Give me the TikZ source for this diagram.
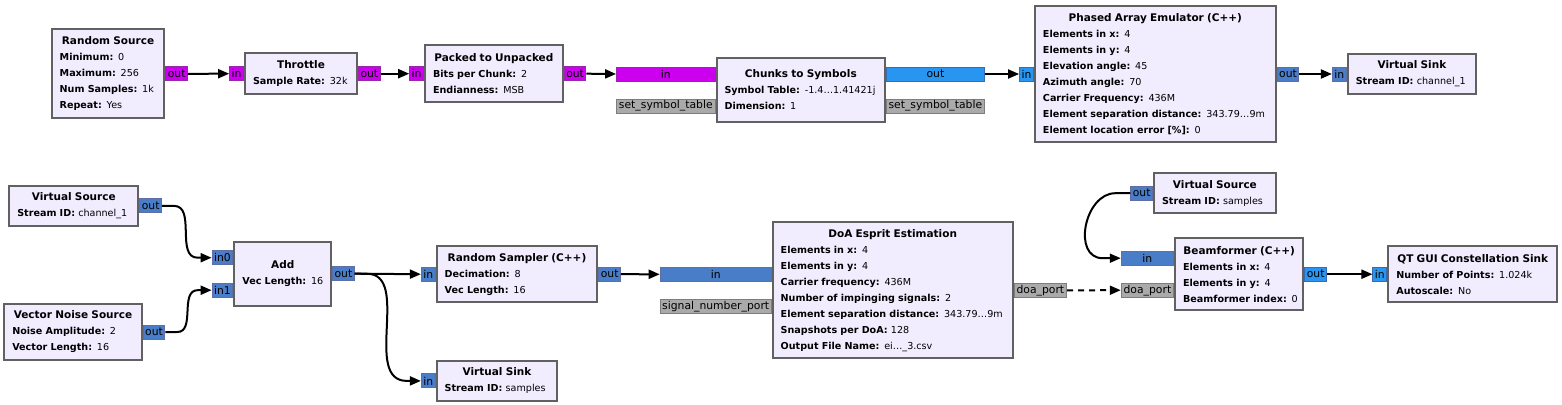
\documentclass[tikz,border=0pt]{standalone}
\usepackage{fontspec}
\setmainfont{DejaVu Sans}
\usepackage{tikz}
\usetikzlibrary{positioning, calc, arrows.meta}

\definecolor{grcBlock}{RGB}{241, 237, 255}
\definecolor{grcBorder}{RGB}{97, 97, 97}
\definecolor{portMag}{RGB}{204, 0, 238}
\definecolor{portMagD}{RGB}{150, 40, 170}
\definecolor{portCx}{RGB}{40, 150, 240}
\definecolor{portCxD}{RGB}{60, 105, 175}
\definecolor{portVec}{RGB}{74, 125, 199}
\definecolor{portVecD}{RGB}{95, 110, 165}
\definecolor{portMsg}{RGB}{170, 170, 170}
\definecolor{portMsgD}{RGB}{125, 125, 125}

\newcommand{\blktitle}[1]{\makebox[\hsize]{\bfseries\fontsize{10.5pt}{16pt}\selectfont #1}}
\newcommand{\prm}[2]{\mbox{\textbf{#1:} #2}}

\begin{document}
\begin{tikzpicture}[
    x=1pt, y=-1pt,
    blk/.style={draw=grcBorder, fill=grcBlock, line width=2pt, align=left,
      inner xsep=8pt, inner ysep=0pt, font=\fontsize{9.6pt}{16pt}\selectfont},
    port/.style={line width=1pt, minimum height=14pt, inner xsep=2pt, inner ysep=0pt,
      font=\fontsize{10.8pt}{11pt}\selectfont},
    pmag/.style={port, fill=portMag, draw=portMagD},
    pcx/.style={port, fill=portCx, draw=portCxD},
    pvec/.style={port, fill=portVec, draw=portVecD},
    pmsg/.style={port, fill=portMsg, draw=portMsgD},
    wire/.style={-{Triangle[length=11pt, width=9pt]}, line width=2pt},
  ]
    \useasboundingbox (0,0) rectangle (1562,404);
    \fill[white] (0,0) rectangle (1562,404);

    % Top row: blocks
    \node[blk, minimum width=112.6pt, minimum height=89pt, text width=96.6pt] (rsrc) at (108,73.8)
      {\blktitle{Random Source}\\ \prm{Minimum}{0}\\ \prm{Maximum}{256}\\ \prm{Num Samples}{1k}\\ \prm{Repeat}{Yes}};
    \node[blk, minimum width=112pt, minimum height=40.7pt, text width=96pt] (thr) at (301,73.7)
      {\blktitle{Throttle}\\ \prm{Sample Rate}{32k}};
    \node[blk, minimum width=137.7pt, minimum height=57.3pt, text width=121.7pt] (p2u) at (493.9,73.7)
      {\blktitle{Packed to Unpacked}\\ \prm{Bits per Chunk}{2}\\ \prm{Endianness}{MSB}};
    \node[blk, minimum width=168.5pt, minimum height=63.4pt, text width=152.5pt] (c2s) at (800.8,90)
      {\blktitle{Chunks to Symbols}\\ \prm{Symbol Table}{-1.4…1.41421j}\\ \prm{Dimension}{1}};
    \node[blk, minimum width=240.7pt, minimum height=136.6pt, text width=224.7pt] (pae) at (1155.3,74)
      {\blktitle{Phased Array Emulator (C++)}\\ \prm{Elements in x}{4}\\ \prm{Elements in y}{4}\\
       \prm{Elevation angle}{45}\\ \prm{Azimuth angle}{70}\\ \prm{Carrier Frequency}{436M}\\
       \prm{Element separation distance}{343.79…9m}\\ \prm{Element location error [\%]}{0}};
    \node[blk, minimum width=128.3pt, minimum height=40.3pt, text width=112.3pt] (vsnk1) at (1411.9,74)
      {\blktitle{Virtual Sink}\\ \prm{Stream ID}{channel\_1}};

    % Top row: ports
    \node[pmag, anchor=west] (rsrc-out) at (rsrc.east) {out};
    \node[pmag, anchor=east] (thr-in) at (thr.west) {in};
    \node[pmag, anchor=west] (thr-out) at (thr.east) {out};
    \node[pmag, anchor=east] (p2u-in) at (p2u.west) {in};
    \node[pmag, anchor=west] (p2u-out) at (p2u.east) {out};
    \node[pmag, anchor=east, minimum width=98.5pt, yshift=16pt] (c2s-in) at (c2s.west) {in};
    \node[pmsg, anchor=east, minimum width=98.5pt, yshift=-16pt] (c2s-msgin) at (c2s.west) {set\_symbol\_table};
    \node[pcx, anchor=west, minimum width=97.7pt, yshift=16pt] (c2s-out) at (c2s.east) {out};
    \node[pmsg, anchor=west, minimum width=97.7pt, yshift=-16pt] (c2s-msgout) at (c2s.east) {set\_symbol\_table};
    \node[pcx, anchor=east] (pae-in) at (pae.west) {in};
    \node[pvec, anchor=west] (pae-out) at (pae.east) {out};
    \node[pvec, anchor=east] (vsnk1-in) at (vsnk1.west) {in};

    % Bottom row: blocks
    \node[blk, minimum width=129pt, minimum height=40.3pt, text width=113pt] (vsrc1) at (73.8,205.9)
      {\blktitle{Virtual Source}\\ \prm{Stream ID}{channel\_1}};
    \node[blk, minimum width=137.4pt, minimum height=56pt, text width=121.4pt] (noise) at (73,332)
      {\blktitle{Vector Noise Source}\\ \prm{Noise Amplitude}{2}\\ \prm{Vector Length}{16}};
    \node[blk, minimum width=96.7pt, minimum height=64pt, text width=80.7pt] (add) at (282.7,273.7)
      {\blktitle{Add}\\ \prm{Vec Length}{16}};
    \node[blk, minimum width=160.6pt, minimum height=56.3pt, text width=144.6pt] (rsmp) at (517,274.2)
      {\blktitle{Random Sampler (C++)}\\ \prm{Decimation}{8}\\ \prm{Vec Length}{16}};
    \node[blk, minimum width=120.6pt, minimum height=40.3pt, text width=104.6pt] (vsnk2) at (497,380.9)
      {\blktitle{Virtual Sink}\\ \prm{Stream ID}{samples}};
    \node[blk, minimum width=240pt, minimum height=136pt, text width=224pt] (doa) at (892.7,290.3)
      {\blktitle{DoA Esprit Estimation}\\ \prm{Elements in x}{4}\\ \prm{Elements in y}{4}\\
       \prm{Carrier frequency}{436M}\\ \prm{Number of impinging signals}{2}\\
       \prm{Element separation distance}{343.79…9m}\\ \prm{Snapshots per DoA}{128}\\
       \prm{Output File Name}{ei…\_3.csv}};
    \node[blk, minimum width=121.7pt, minimum height=40.3pt, text width=105.7pt] (vsrc2) at (1214.9,193.2)
      {\blktitle{Virtual Source}\\ \prm{Stream ID}{samples}};
    \node[blk, minimum width=128.3pt, minimum height=72.3pt, text width=112.3pt] (bf) at (1239.2,274.2)
      {\blktitle{Beamformer (C++)}\\ \prm{Elements in x}{4}\\ \prm{Elements in y}{4}\\ \prm{Beamformer index}{0}};
    \node[blk, minimum width=169pt, minimum height=56.3pt, text width=153pt] (qt) at (1472.8,274.2)
      {\blktitle{QT GUI Constellation Sink}\\ \prm{Number of Points}{1.024k}\\ \prm{Autoscale}{No}};

    % Bottom row: ports
    \node[pvec, anchor=west] (vsrc1-out) at (vsrc1.east) {out};
    \node[pvec, anchor=west] (noise-out) at (noise.east) {out};
    \node[pvec, anchor=east, yshift=16pt] (add-in0) at (add.west) {in0};
    \node[pvec, anchor=east, yshift=-16.5pt] (add-in1) at (add.west) {in1};
    \node[pvec, anchor=west] (add-out) at (add.east) {out};
    \node[pvec, anchor=east] (rsmp-in) at (rsmp.west) {in};
    \node[pvec, anchor=west] (rsmp-out) at (rsmp.east) {out};
    \node[pvec, anchor=east] (vsnk2-in) at (vsnk2.west) {in};
    \node[pvec, anchor=east, minimum width=111pt, yshift=16pt] (doa-in) at (doa.west) {in};
    \node[pmsg, anchor=east, minimum width=111pt, yshift=-16pt] (doa-msgin) at (doa.west) {signal\_number\_port};
    \node[pmsg, anchor=west, minimum width=52.3pt] (doa-msgout) at (doa.east) {doa\_port};
    \node[pvec, anchor=east] (vsrc2-out) at (vsrc2.west) {out};
    \node[pvec, anchor=east, minimum width=52.3pt, yshift=16pt] (bf-in) at (bf.west) {in};
    \node[pmsg, anchor=east, minimum width=52.3pt, yshift=-16pt] (bf-msgin) at (bf.west) {doa\_port};
    \node[pcx, anchor=west] (bf-out) at (bf.east) {out};
    \node[pcx, anchor=east] (qt-in) at (qt.west) {in};

    % Connections
    \draw[wire] (rsrc-out.east) -- (thr-in.west);
    \draw[wire] (thr-out.east) -- (p2u-in.west);
    \draw[wire] (p2u-out.east) -- (c2s-in.west);
    \draw[wire] (c2s-out.east) -- (pae-in.west);
    \draw[wire] (pae-out.east) -- (vsnk1-in.west);

    \draw[wire] (vsrc1-out.east) -- ++(12,0) to[out=0, in=180] ($(add-in0.west)+(-14,0)$) -- (add-in0.west);
    \draw[wire] (noise-out.east) -- ++(12,0) to[out=0, in=180] ($(add-in1.west)+(-14,0)$) -- (add-in1.west);
    \draw[wire] (add-out.east) -- (rsmp-in.west);
    \draw[wire] (add-out.east) -- ++(12,0) to[out=0, in=180] ($(vsnk2-in.west)+(-14,0)$) -- (vsnk2-in.west);
    \draw[wire] (rsmp-out.east) -- (doa-in.west);
    \draw[wire] (vsrc2-out.west) -- ++(-15,0) to[out=180, in=180, looseness=1.2] ($(bf-in.west)+(-18,0)$) -- (bf-in.west);
    \draw[wire, dash pattern=on 6pt off 5pt] (doa-msgout.east) -- (bf-msgin.west);
    \draw[wire] (bf-out.east) -- (qt-in.west);
\end{tikzpicture}
\end{document}
